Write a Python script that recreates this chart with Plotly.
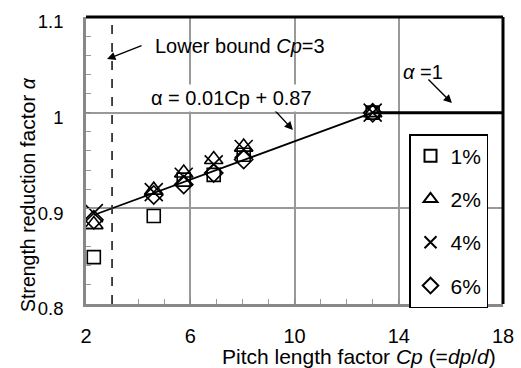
import plotly.graph_objects as go

cp = [2.3, 4.6, 5.75, 6.9, 8.05, 13.0]
s1 = [0.849, 0.892, 0.930, 0.935, 0.956, 1.0]
s2 = [0.883, 0.919, 0.937, 0.951, 0.964, 1.0]
s4 = [0.895, 0.917, 0.933, 0.946, 0.962, 1.0]
s6 = [0.888, 0.914, 0.925, 0.937, 0.951, 1.0]
fit_x = [2.3, 13.0]
fit_y = [0.893, 1.0]
lim_x = [13.0, 18.0]
lim_y = [1.0, 1.0]
bound_x = 3
x_ticks = [2, 6, 10, 14, 18]
y_ticks = [0.8, 0.9, 1.0, 1.1]
y_tick_text = ["0.8", "0.9", "1", "1.1"]

FONT = "Liberation Sans, Arial, sans-serif"
fig = go.Figure()

fig.add_trace(go.Scatter(x=fit_x, y=fit_y, mode="lines", line=dict(color="black", width=1.8),
                         showlegend=False, hoverinfo="skip"))
fig.add_trace(go.Scatter(x=lim_x, y=lim_y, mode="lines", line=dict(color="black", width=3),
                         showlegend=False, hoverinfo="skip"))

series = [
    ("1%", s1, "square-open", 13),
    ("2%", s2, "triangle-up-open", 16),
    ("4%", s4, "x-thin-open", 18),
    ("6%", s6, "diamond-open", 14),
]
for name, ys, sym, sz in series:
    fig.add_trace(go.Scatter(x=cp, y=ys, mode="markers", name=name, legendgroup=name,
                             marker=dict(symbol=sym, size=sz, color="black",
                                         line=dict(color="black", width=1.6))))

# lower bound dashed line
fig.add_shape(type="line", xref="x", yref="y", x0=bound_x, x1=bound_x, y0=0.8, y1=1.1,
              line=dict(color="#333", width=1.8, dash="dash"))
# top & right thick black borders
fig.add_shape(type="line", xref="x domain", yref="y domain", x0=0, x1=1, y0=1, y1=1,
              line=dict(color="black", width=3))
fig.add_shape(type="line", xref="x domain", yref="y domain", x0=1, x1=1, y0=0, y1=1,
              line=dict(color="black", width=3))

ann_font = dict(family=FONT, size=20, color="black")
arrow = dict(showarrow=True, arrowhead=2, arrowsize=1.2, arrowwidth=1.4, arrowcolor="black",
             axref="pixel", ayref="pixel", standoff=0, text="")
# Lower bound
fig.add_annotation(x=2.806, y=1.056, xref="x", yref="y", ax=36, ay=-14, **arrow)
fig.add_annotation(x=4.57, y=1.0702, xref="x", yref="y", text="Lower bound <i>Cp</i>=3",
                   showarrow=False, xanchor="left", yanchor="middle", font=ann_font)
# fit equation
fig.add_annotation(x=9.94, y=0.9819, xref="x", yref="y", ax=-25, ay=-27, **arrow)
fig.add_annotation(x=7.60, y=1.0153, xref="x", yref="y", text="α = 0.01Cp + 0.87",
                   showarrow=False, xanchor="center", yanchor="middle", font=ann_font,
                   bgcolor="white", borderpad=2)
# alpha = 1
fig.add_annotation(x=16.04, y=1.01, xref="x", yref="y", ax=-25, ay=-25, **arrow)
fig.add_annotation(x=14.93, y=1.0425, xref="x", yref="y", text="<i>α</i> =1",
                   showarrow=False, xanchor="center", yanchor="middle", font=ann_font)

# axis titles
fig.add_annotation(x=(359 - 86) / 417, y=-(356 - 304) / 287, xref="paper", yref="paper",
                   xanchor="center", yanchor="middle",
                   text="Pitch length factor <i>Cp</i> (=<i>dp</i>/<i>d</i>)",
                   showarrow=False, font=dict(family=FONT, size=21, color="black"))
fig.add_annotation(x=-(86 - 27) / 417, y=(304 - 195) / 287, xref="paper", yref="paper",
                   xanchor="center", yanchor="middle", textangle=-90,
                   text="Strength reduction <span style='font-size:21px'>factor</span> <i>α</i>",
                   showarrow=False, font=dict(family=FONT, size=19.5, color="black"))

fig.update_layout(
    width=521, height=368,
    margin=dict(l=86, r=18, t=17, b=64, autoexpand=False),
    paper_bgcolor="white", plot_bgcolor="white",
    font=dict(family=FONT, size=19, color="black"),
    legend=dict(x=0.7746, y=0.5923, xanchor="left", yanchor="top",
                bordercolor="black", borderwidth=1.5, bgcolor="white",
                font=dict(family=FONT, size=21), tracegroupgap=13,
                itemwidth=30, itemsizing="constant"),
    xaxis=dict(range=[2, 18], tickvals=x_ticks, showgrid=True, gridcolor="#999", gridwidth=1.5,
               showline=True, linecolor="#888", linewidth=2.5, ticks="inside", ticklen=5,
               tickcolor="#888", zeroline=False, ticklabelstandoff=12, automargin=False,
               tickfont=dict(size=20),
               minor=dict(dtick=1, ticks="inside", ticklen=5, tickcolor="#999", showgrid=False)),
    yaxis=dict(range=[0.8, 1.1], tickvals=y_ticks, ticktext=y_tick_text, showgrid=True,
               gridcolor="#999", gridwidth=1.5, showline=True, linecolor="#888", linewidth=2.5,
               ticks="inside", ticklen=5, tickcolor="#888", zeroline=False, automargin=False,
               ticklabelstandoff=16, ticklabelshift=5, tickfont=dict(size=18.5),
               minor=dict(dtick=0.02, ticks="inside", ticklen=5, tickcolor="#999", showgrid=False)),
)

fig.write_html("out.html", config={"displayModeBar": False},
               post_script="document.body.style.margin='0';")
